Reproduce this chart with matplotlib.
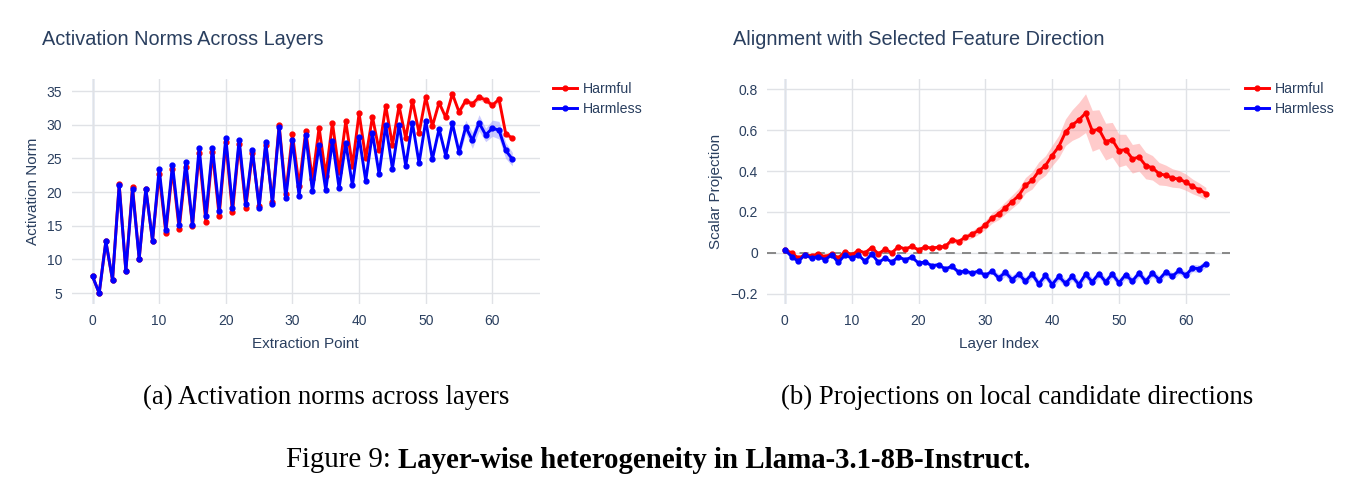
import matplotlib
matplotlib.use("Agg")
import matplotlib.pyplot as plt
import numpy as np

# ---- data ----
layers = np.arange(64)

norm_harmful = [7.5, 5.0, 12.7, 6.9, 21.2, 8.3, 20.8, 10.1, 20.5, 12.8,
                22.7, 14.0, 23.4, 14.5, 23.8, 15.0, 25.8, 15.6, 25.9, 16.5,
                27.4, 17.0, 27.2, 17.7, 25.8, 18.0, 27.0, 18.6, 30.0, 19.8,
                28.6, 20.9, 29.1, 21.9, 29.6, 22.4, 30.3, 23.0, 30.5, 23.9,
                31.7, 25.0, 31.2, 26.2, 32.8, 27.0, 32.8, 28.0, 33.6, 28.8,
                34.1, 29.8, 33.3, 31.1, 34.6, 31.9, 33.6, 33.1, 34.1, 33.7,
                32.9, 33.8, 28.7, 28.0]
norm_harmless = [7.5, 5.0, 12.7, 7.0, 21.0, 8.3, 20.4, 10.1, 20.5, 12.8,
                 23.5, 14.4, 24.1, 15.1, 24.5, 15.1, 26.6, 16.4, 26.6, 17.2,
                 28.1, 17.7, 27.8, 18.3, 26.2, 17.7, 27.5, 18.2, 29.7, 19.1,
                 27.7, 19.4, 28.5, 20.1, 27.0, 20.3, 27.6, 20.6, 27.3, 21.0,
                 28.2, 21.7, 28.8, 22.7, 30.0, 23.5, 30.0, 23.9, 30.3, 24.3,
                 30.6, 24.9, 29.4, 25.4, 30.2, 25.9, 29.7, 27.7, 30.3, 28.5,
                 29.5, 29.2, 26.2, 24.9]
norm_harmful_std = [0.15] * 52 + [0.2, 0.25, 0.3, 0.35, 0.4, 0.45, 0.45, 0.45,
                                  0.45, 0.45, 0.4, 0.35]
norm_harmless_std = [0.15] * 50 + [0.3, 0.35, 0.4, 0.5, 0.6, 0.8, 1.0, 1.2,
                                   1.2, 1.0, 1.2, 1.3, 1.2, 1.0]

proj_harmful = [0.015, 0.0, -0.026, -0.01, -0.015, -0.005, -0.02, -0.005, -0.025, 0.006,
                -0.01, 0.011, 0.0, 0.026, -0.005, 0.018, 0.0, 0.03, 0.019, 0.031,
                0.015, 0.028, 0.023, 0.028, 0.031, 0.063, 0.055, 0.076, 0.09, 0.11,
                0.136, 0.17, 0.19, 0.22, 0.25, 0.28, 0.33, 0.354, 0.40, 0.427,
                0.476, 0.52, 0.59, 0.625, 0.65, 0.683, 0.597, 0.605, 0.544, 0.553,
                0.50, 0.505, 0.46, 0.468, 0.427, 0.416, 0.387, 0.379, 0.366, 0.36,
                0.346, 0.325, 0.309, 0.29]
proj_harmless = [0.015, -0.018, -0.042, -0.01, -0.026, -0.018, -0.034, -0.01, -0.047, -0.01,
                 -0.026, -0.01, -0.042, -0.005, -0.047, -0.026, -0.045, -0.02, -0.034, -0.021,
                 -0.05, -0.045, -0.063, -0.058, -0.079, -0.066, -0.094, -0.09, -0.099, -0.09,
                 -0.11, -0.09, -0.123, -0.095, -0.131, -0.104, -0.139, -0.104, -0.152, -0.11,
                 -0.155, -0.115, -0.15, -0.115, -0.155, -0.105, -0.142, -0.102, -0.142, -0.104,
                 -0.147, -0.107, -0.139, -0.099, -0.139, -0.099, -0.131, -0.094, -0.115, -0.086,
                 -0.11, -0.074, -0.078, -0.053]
proj_harmful_std = [0.008] * 24 + [0.01, 0.012, 0.014, 0.016, 0.018, 0.02,
                                   0.022, 0.025, 0.028, 0.03, 0.032, 0.035, 0.038, 0.042, 0.045, 0.048,
                                   0.05, 0.055, 0.065, 0.075, 0.085, 0.095, 0.1, 0.095, 0.09, 0.085,
                                   0.08, 0.075, 0.07, 0.068, 0.065, 0.06, 0.055, 0.05, 0.045, 0.042,
                                   0.04, 0.036, 0.033, 0.03]
proj_harmless_std = [0.006] * 16 + [0.008] * 8 + [0.012] * 8 + [0.02] * 24 + [0.018] * 8

# ---- style ----
txt = "#2a3f5f"
grid = "#e0e2e6"
zero = "#e8eef7"
plt.rcParams["font.family"] = ["Liberation Sans", "DejaVu Sans"]

fig = plt.figure(figsize=(13.56, 4.91), dpi=100)


def style_axes(ax, xlabel, ylabel, title, tx):
    ax.set_facecolor("white")
    for s in ax.spines.values():
        s.set_visible(False)
    ax.grid(True, color=grid, linewidth=1)
    ax.set_axisbelow(True)
    ax.tick_params(length=0, labelsize=10, labelcolor=txt, pad=7)
    ax.set_xlabel(xlabel, fontsize=11, color=txt, labelpad=7)
    ax.set_ylabel(ylabel, fontsize=11, color=txt, labelpad=5)
    ax.set_title(title, fontsize=14.3, color=txt, loc="left", x=tx, y=1.115)
    ax.axvline(0, color=zero, linewidth=2, zorder=0.5)


def draw(ax, y, sd, color, band, label):
    y = np.array(y)
    sd = np.array(sd)
    ax.fill_between(layers, y - sd, y + sd, color=band, alpha=0.5, linewidth=0)
    ax.plot(layers, y, color=color, linewidth=2.1, marker="o", markersize=3.5, label=label)


# (a) activation norms
ax1 = fig.add_axes([0.053, 0.381, 0.345, 0.458])
style_axes(ax1, "Extraction Point", "Activation Norm", "Activation Norms Across Layers", -0.063)
draw(ax1, norm_harmful, norm_harmful_std, "red", "#ff9999", "Harmful")
draw(ax1, norm_harmless, norm_harmless_std, "blue", "#9999ff", "Harmless")
ax1.set_xlim(-3.1, 67.1)
ax1.set_ylim(3.4, 36.8)
ax1.set_xticks(range(0, 61, 10))
ax1.set_yticks(range(5, 36, 5))

# (b) projections
ax2 = fig.add_axes([0.566, 0.381, 0.341, 0.458])
style_axes(ax2, "Layer Index", "Scalar Projection", "Alignment with Selected Feature Direction", -0.074)
ax2.axhline(0, color="#808080", linewidth=1.3, linestyle=(0, (5, 4)), zorder=1)
draw(ax2, proj_harmful, proj_harmful_std, "red", "#ff9999", "Harmful")
draw(ax2, proj_harmless, proj_harmless_std, "blue", "#9999ff", "Harmless")
ax2.set_xlim(-2.6, 66.6)
ax2.set_ylim(-0.25, 0.85)
ax2.set_xticks(range(0, 61, 10))
ax2.set_yticks([-0.2, 0, 0.2, 0.4, 0.6, 0.8])
ax2.set_yticklabels(["\u22120.2", "0", "0.2", "0.4", "0.6", "0.8"])

for ax, lx in [(ax1, 0.4035), (ax2, 0.914)]:
    leg = ax.legend(loc="upper left", bbox_to_anchor=(lx, 0.845), bbox_transform=fig.transFigure,
                    frameon=False, fontsize=10.2, handlelength=1.7, handletextpad=0.4,
                    labelspacing=0.45, borderaxespad=0)
    for t in leg.get_texts():
        t.set_color(txt)

# captions
serif = ["Liberation Serif", "DejaVu Serif"]
fig.text(0.2405, 0.19, "(a) Activation norms across layers", family=serif, fontsize=19.3,
         ha="center", va="center")
fig.text(0.750, 0.19, "(b) Projections on local candidate directions", family=serif,
         fontsize=19.3, ha="center", va="center")

# figure caption: plain prefix + bold part, centred together
r = fig.canvas.get_renderer()
t1 = fig.text(0, 0.063, "Figure 9: ", family=serif, fontsize=20.75, ha="left", va="center")
t2 = fig.text(0, 0.063, "Layer-wise heterogeneity in Llama-3.1-8B-Instruct.", family=serif,
              fontsize=20.75, weight="bold", ha="left", va="center")
w1 = t1.get_window_extent(r).width / fig.bbox.width
w2 = t2.get_window_extent(r).width / fig.bbox.width
x0 = 0.4856 - (w1 + w2) / 2
t1.set_x(x0)
t2.set_x(x0 + w1)

fig.savefig("out.png", dpi=100)
